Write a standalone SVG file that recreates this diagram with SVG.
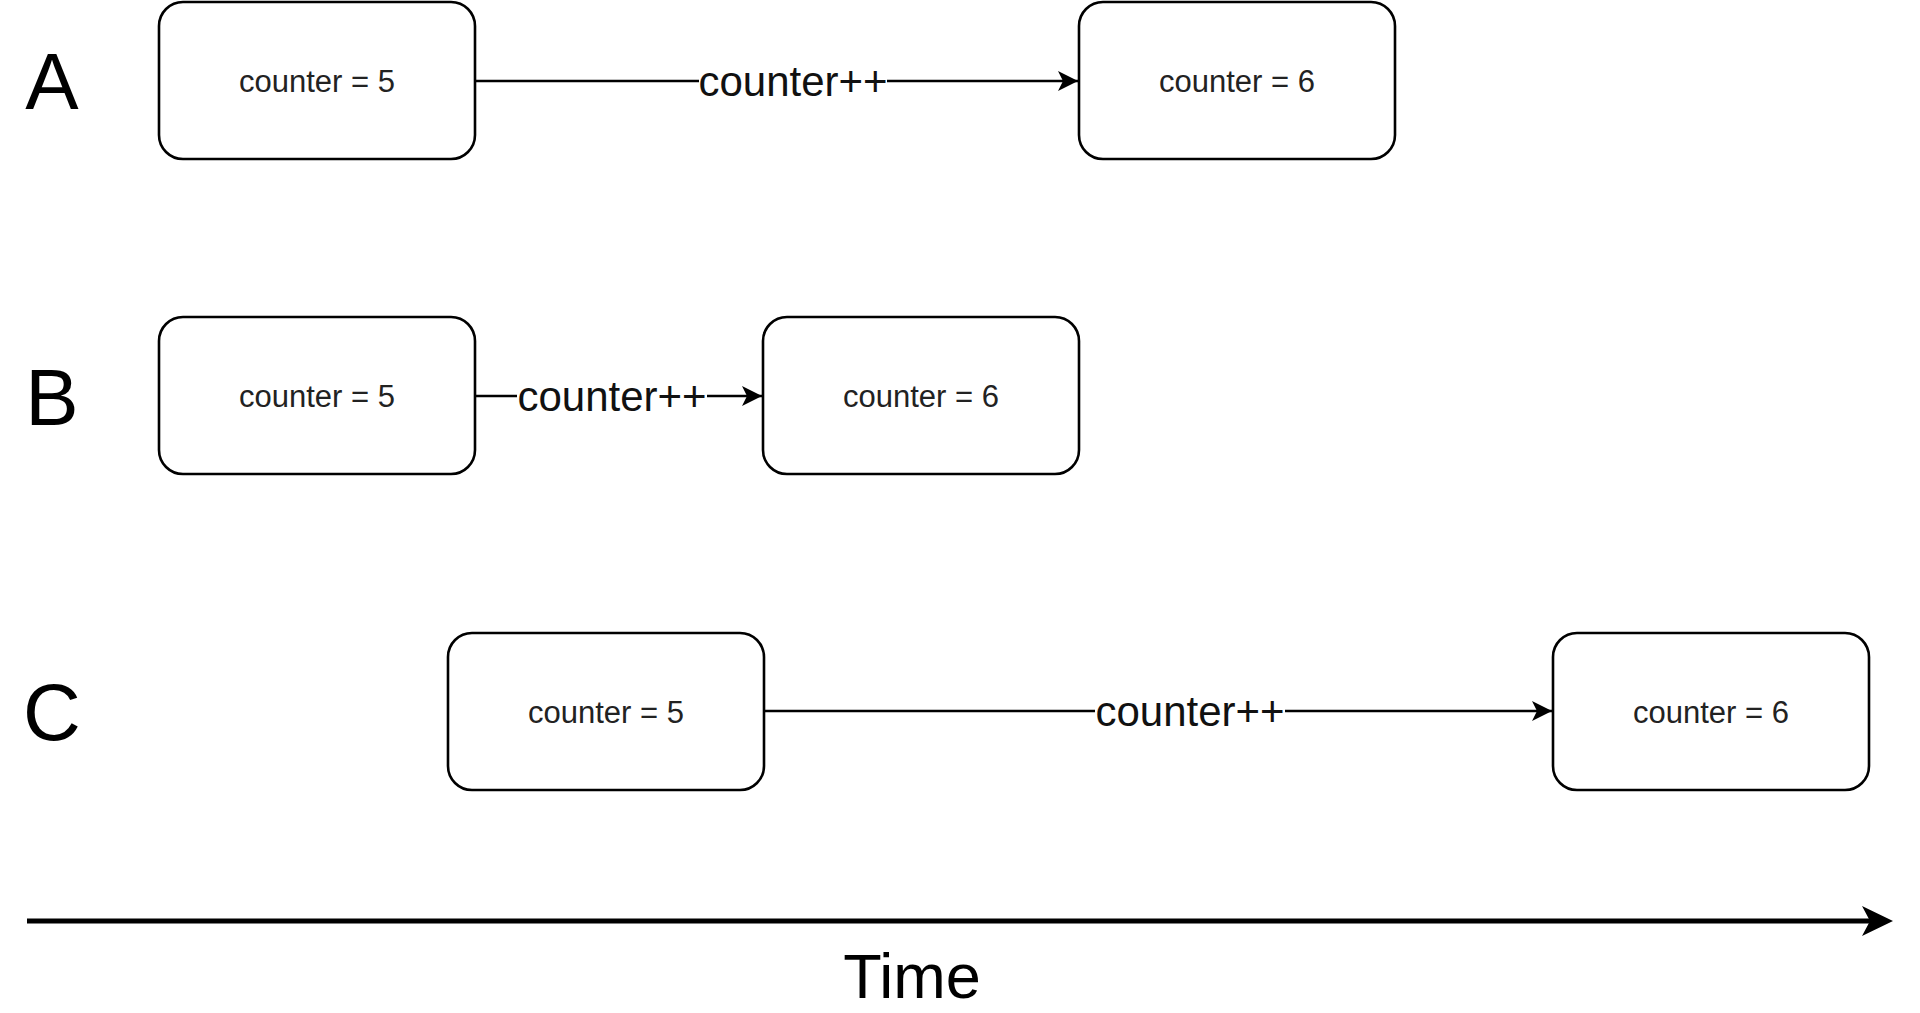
<svg xmlns="http://www.w3.org/2000/svg" width="1920" height="1013" viewBox="0 0 1920 1013">
<style>
.box{fill:#fff;stroke:#000;stroke-width:2.6}
.bt{font-family:"Liberation Sans",Arial,sans-serif;font-size:31px;fill:#222;text-anchor:middle}
.lbl{font-family:"Liberation Sans",Arial,sans-serif;font-size:42px;fill:#111;text-anchor:middle}
.row{font-family:"Liberation Sans",Arial,sans-serif;font-size:80px;fill:#000;text-anchor:middle}
.edge{stroke:#000;stroke-width:2.6;fill:none}
.lb{fill:#fff}
</style>
<defs>
<marker id="arr" markerUnits="userSpaceOnUse" markerWidth="24" markerHeight="24" viewBox="-22 -12 24 24" refX="0" refY="0" orient="auto" overflow="visible">
<path d="M0,0 L-20,-10 L-15,0 L-20,10 Z" fill="#000"/>
</marker>
</defs>
<rect width="1920" height="1013" fill="#fff"/>
<g id="row-labels">
<text class="row" x="52" y="109">A</text>
<text class="row" x="52" y="425">B</text>
<text class="row" x="52" y="740">C</text>
</g>
<g id="connectors">
<line class="edge" x1="475" y1="81" x2="1078" y2="81" marker-end="url(#arr)"/>
<rect class="lb" x="699" y="64" width="188" height="36"/>
<text class="lbl" x="793" y="96">counter++</text>
<line class="edge" x1="475" y1="396" x2="762" y2="396" marker-end="url(#arr)"/>
<rect class="lb" x="517" y="379" width="190" height="36"/>
<text class="lbl" x="612" y="411">counter++</text>
<line class="edge" x1="764" y1="711" x2="1552" y2="711" marker-end="url(#arr)"/>
<rect class="lb" x="1095" y="694" width="190" height="36"/>
<text class="lbl" x="1190" y="726">counter++</text>
</g>
<g id="A1"><rect class="box" x="159" y="2" width="316" height="157" rx="24"/><text class="bt" x="317" y="92">counter = 5</text></g>
<g id="A2"><rect class="box" x="1079" y="2" width="316" height="157" rx="24"/><text class="bt" x="1237" y="92">counter = 6</text></g>
<g id="B1"><rect class="box" x="159" y="317" width="316" height="157" rx="24"/><text class="bt" x="317" y="407">counter = 5</text></g>
<g id="B2"><rect class="box" x="763" y="317" width="316" height="157" rx="24"/><text class="bt" x="921" y="407">counter = 6</text></g>
<g id="C1"><rect class="box" x="448" y="633" width="316" height="157" rx="24"/><text class="bt" x="606" y="723">counter = 5</text></g>
<g id="C2"><rect class="box" x="1553" y="633" width="316" height="157" rx="24"/><text class="bt" x="1711" y="723">counter = 6</text></g>
<g id="time-axis">
<line x1="27" y1="921" x2="1870" y2="921" stroke="#000" stroke-width="5"/>
<path d="M1893,921 L1862,906 L1870,921 L1862,936 Z" fill="#000"/>
<text x="912" y="998" style="font-family:'Liberation Sans',Arial,sans-serif;font-size:63px;fill:#000;text-anchor:middle">Time</text>
</g>
</svg>
